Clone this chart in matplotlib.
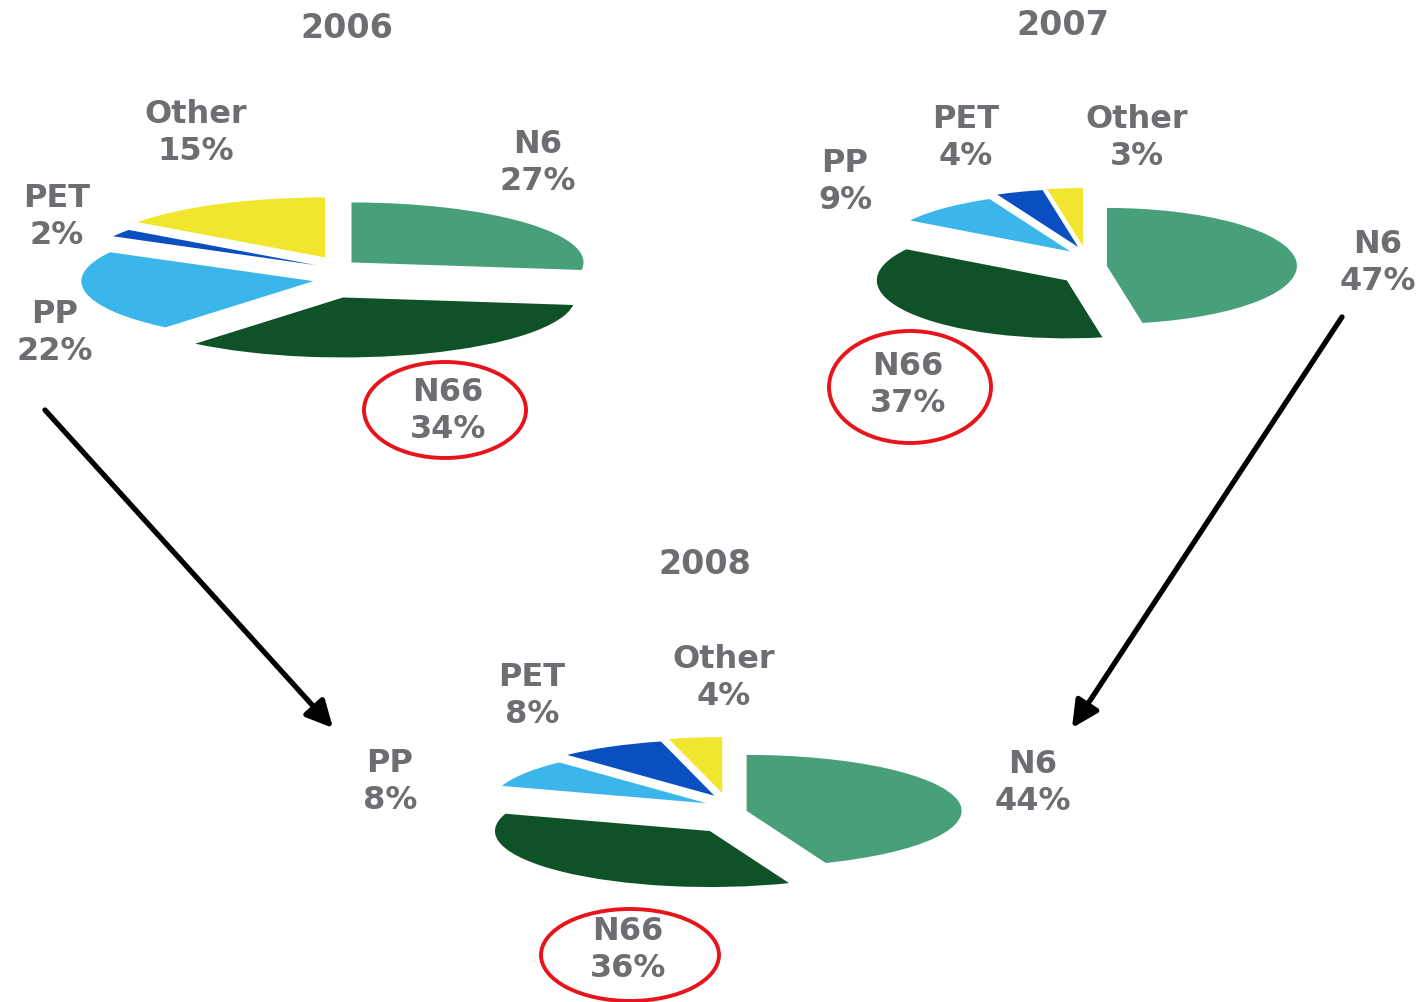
import matplotlib.pyplot as plt
import numpy as np
from matplotlib.patches import Ellipse
from matplotlib.transforms import ScaledTranslation

# Resin mix by year
years = ['2006', '2007', '2008']
materials = ['N6', 'N66', 'PP', 'PET', 'Other']
shares = {
    '2006': [27, 34, 22, 2, 15],
    '2007': [47, 37, 9, 4, 3],
    '2008': [44, 36, 8, 8, 4],
}
colors = ['#48a07a', '#0f5228', '#3bb6ea', '#0a4fbf', '#f2e52e']

GRAY = '#6d6e71'
W, H, DPI = 1427, 1002, 100

# pie placement in pixels: centre x, centre y, x radius, y radius
pie_pos = {
    '2006': (335, 277, 232, 60),
    '2007': (1085, 268, 190, 58),
    '2008': (725, 815, 215, 56),
}
title_pos = {'2006': (347, 28), '2007': (1063, 25), '2008': (705, 565)}
label_pos = {
    '2006': {'N6': (538, 163), 'N66': (448, 411), 'PP': (55, 333),
             'PET': (57, 217), 'Other': (196, 133)},
    '2007': {'N6': (1378, 263), 'N66': (908, 385), 'PP': (845, 182),
             'PET': (966, 138), 'Other': (1137, 138)},
    '2008': {'N6': (1033, 783), 'N66': (628, 950), 'PP': (390, 782),
             'PET': (532, 696), 'Other': (724, 678)},
}
ring_pos = {'2006': (445, 410, 162, 96), '2007': (910, 387, 162, 112),
            '2008': (630, 955, 178, 92)}

fig = plt.figure(figsize=(W / DPI, H / DPI), dpi=DPI)
fig.patch.set_facecolor('white')

# overlay in pixel coordinates for text, rings and arrows
ax0 = fig.add_axes([0, 0, 1, 1])
ax0.set_xlim(0, W)
ax0.set_ylim(H, 0)
ax0.axis('off')

gap = 22  # px each wedge is pulled out from the centre
for year in years:
    cx, cy, rx, ry = pie_pos[year]
    ax = fig.add_axes([(cx - rx) / W, 1 - (cy + ry) / H, 2 * rx / W, 2 * ry / H])
    wedges, _ = ax.pie(shares[year], colors=colors, startangle=90,
                       counterclock=False, wedgeprops=dict(linewidth=0))
    ax.set_aspect('auto')
    ax.set_xlim(-1, 1)
    ax.set_ylim(-1, 1)
    ax.axis('off')
    for w in wedges:
        mid = np.deg2rad((w.theta1 + w.theta2) / 2)
        off = ScaledTranslation(gap * np.cos(mid) / DPI, gap * np.sin(mid) / DPI,
                                fig.dpi_scale_trans)
        w.set_transform(w.get_transform() + off)
        w.set_clip_on(False)

    tx, ty = title_pos[year]
    ax0.text(tx, ty, year, ha='center', va='center', color=GRAY,
             fontsize=24, fontweight='bold')
    for name, val in zip(materials, shares[year]):
        lx, ly = label_pos[year][name]
        ax0.text(lx, ly, f'{name}\n{val}%', ha='center', va='center',
                 color=GRAY, fontsize=23, fontweight='bold', linespacing=1.25)

    ex, ey, ew, eh = ring_pos[year]
    ax0.add_patch(Ellipse((ex, ey), ew, eh, fill=False, edgecolor='#e8141b',
                          linewidth=2.8))

# arrows converging on 2008
arrow_kw = dict(arrowstyle='-|>,head_length=1.6,head_width=0.8',
                color='black', lw=3.8, shrinkA=0, shrinkB=0)
ax0.annotate('', xy=(333, 728), xytext=(45, 410), arrowprops=arrow_kw)
ax0.annotate('', xy=(1072, 728), xytext=(1342, 317), arrowprops=arrow_kw)

fig.savefig('out.png', dpi=DPI)
